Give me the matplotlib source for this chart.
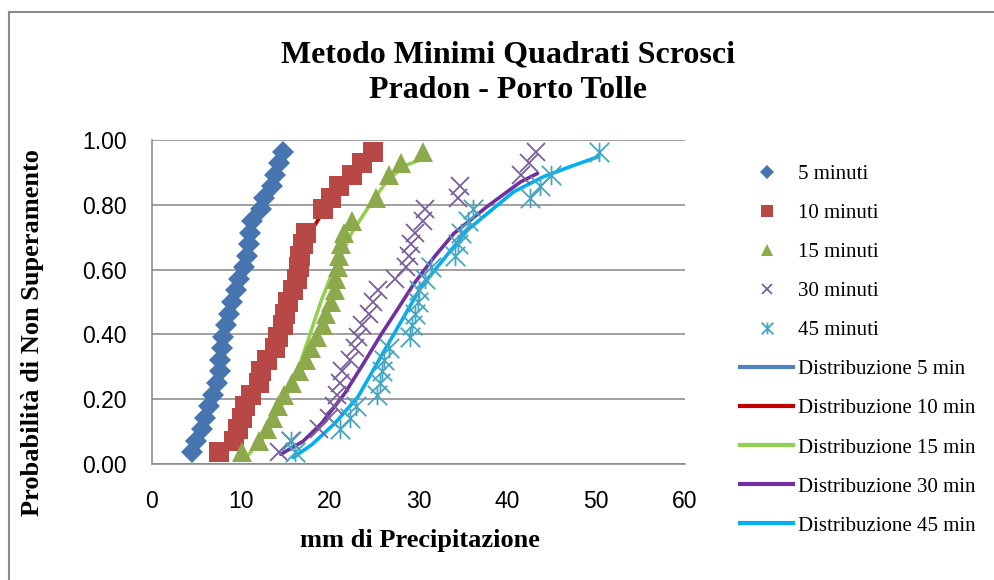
import matplotlib
matplotlib.use("Agg")
import matplotlib.pyplot as plt
from matplotlib.lines import Line2D
from matplotlib.path import Path

plt.rcParams["font.family"] = ["Liberation Serif", "DejaVu Serif"]

# Observed rainfall depths (mm) and plotting-position probabilities per duration
p5 = [0.036, 0.071, 0.107, 0.143, 0.179, 0.214, 0.250, 0.286, 0.321, 0.357, 0.393, 0.429, 0.464,
      0.500, 0.536, 0.571, 0.607, 0.643, 0.679, 0.714, 0.750, 0.786, 0.821, 0.857, 0.893, 0.929, 0.964]
x5 = [4.5, 5.0, 5.6, 6.0, 6.4, 6.9, 7.3, 7.6, 7.7, 7.85, 8.0, 8.3, 8.7,
      9.0, 9.4, 9.8, 10.4, 10.7, 10.9, 11.0, 11.3, 12.3, 12.6, 13.5, 13.9, 14.3, 14.8]

p10 = [0.036, 0.071, 0.107, 0.143, 0.179, 0.214, 0.250, 0.286, 0.321, 0.357, 0.393, 0.429, 0.464,
       0.500, 0.536, 0.571, 0.607, 0.643, 0.679, 0.714, 0.786, 0.821, 0.857, 0.893, 0.929, 0.964]
x10 = [7.5, 9.2, 9.7, 10.1, 10.5, 11.1, 12.0, 12.3, 13.0, 13.9, 14.2, 14.8, 15.0,
       15.3, 15.9, 16.3, 16.6, 16.7, 17.0, 17.3, 19.3, 20.2, 21.1, 22.5, 23.6, 24.9]

p15 = [0.036, 0.071, 0.107, 0.143, 0.179, 0.214, 0.250, 0.286, 0.321, 0.357, 0.393, 0.429, 0.464,
       0.500, 0.536, 0.571, 0.607, 0.643, 0.679, 0.714, 0.750, 0.821, 0.893, 0.929, 0.964]
x15 = [10.1, 12.0, 12.9, 13.6, 14.2, 14.9, 15.8, 16.6, 17.3, 17.9, 18.6, 19.2, 19.6,
       20.2, 20.6, 20.7, 20.9, 21.1, 21.3, 21.6, 22.5, 25.2, 26.7, 28.0, 30.5]

p30 = [0.036, 0.071, 0.107, 0.143, 0.179, 0.214, 0.250, 0.286, 0.321, 0.357, 0.393, 0.429, 0.464,
       0.500, 0.536, 0.571, 0.607, 0.643, 0.679, 0.714, 0.750, 0.786, 0.821, 0.857, 0.893, 0.929, 0.964]
x30 = [14.3, 15.6, 18.8, 19.9, 20.5, 20.8, 21.2, 21.4, 22.3, 22.8, 23.2, 23.6, 24.4,
       24.9, 25.4, 27.4, 28.6, 28.9, 29.1, 29.6, 30.5, 30.7, 34.5, 34.7, 41.5, 42.4, 43.2]

p45 = [0.036, 0.071, 0.107, 0.143, 0.179, 0.214, 0.250, 0.286, 0.321, 0.357, 0.393, 0.429, 0.464,
       0.500, 0.536, 0.571, 0.607, 0.643, 0.679, 0.714, 0.750, 0.786, 0.821, 0.857, 0.893, 0.964]
x45 = [16.1, 15.7, 21.2, 22.3, 23.0, 25.3, 25.7, 25.9, 26.1, 26.7, 29.0, 29.3, 29.6,
       29.9, 30.1, 30.7, 31.4, 34.1, 34.5, 34.8, 35.6, 36.1, 42.5, 43.7, 44.9, 50.3]

# Fitted distributions (least squares), read as (mm, probability)
d5_x = [4.5, 5.6, 6.9, 7.8, 8.7, 9.7, 10.7, 11.8, 13.0, 14.0, 14.8]
d5_p = [0.04, 0.11, 0.22, 0.34, 0.46, 0.58, 0.67, 0.77, 0.86, 0.92, 0.96]

d10_x = [7.5, 9.5, 11.0, 12.4, 13.5, 14.4, 15.3, 16.3, 17.3, 18.5, 20.0, 22.0, 24.9]
d10_p = [0.035, 0.10, 0.20, 0.29, 0.36, 0.43, 0.52, 0.60, 0.69, 0.745, 0.81, 0.88, 0.955]

d15_x = [10.9, 12.5, 14.0, 15.5, 16.8, 17.9, 19.0, 20.0, 20.9, 22.4, 24.3, 26.5, 28.4, 30.3]
d15_p = [0.03, 0.08, 0.15, 0.23, 0.32, 0.41, 0.50, 0.57, 0.62, 0.71, 0.79, 0.876, 0.92, 0.94]

d30_x = [14.5, 17.0, 19.1, 21.7, 23.8, 25.8, 27.7, 29.5, 31.8, 34.0, 37.7, 41.5, 43.4]
d30_p = [0.03, 0.07, 0.126, 0.218, 0.31, 0.40, 0.48, 0.557, 0.64, 0.712, 0.794, 0.871, 0.897]

d45_x = [15.9, 18.0, 20.6, 23.2, 26.2, 30.3, 35.5, 40.7, 44.1, 47.1, 50.3]
d45_p = [0.02, 0.06, 0.126, 0.208, 0.352, 0.547, 0.722, 0.84, 0.887, 0.918, 0.949]

point_labels = ["5 minuti", "10 minuti", "15 minuti", "30 minuti", "45 minuti"]
line_labels = ["Distribuzione 5 min", "Distribuzione 10 min", "Distribuzione 15 min",
               "Distribuzione 30 min", "Distribuzione 45 min"]

# Excel-like asterisk: an X with a vertical bar
star = Path([(-0.5, -0.5), (0.5, 0.5), (-0.5, 0.5), (0.5, -0.5), (0, -0.5), (0, 0.5)],
            [Path.MOVETO, Path.LINETO, Path.MOVETO, Path.LINETO, Path.MOVETO, Path.LINETO])

point_style = [
    dict(marker="D", ms=11.5, color="#4675B0", mew=0),
    dict(marker="s", ms=14, color="#B84845", mew=0),
    dict(marker="^", ms=14, color="#8CAA4C", mew=0),
    dict(marker="x", ms=13, color="#7A5E9E", mew=1.3),
    dict(marker=star, ms=14, color="#46A6C2", mew=1.3, mfc="none"),
]
line_colors = ["#4F81BD", "#C00000", "#92D050", "#7030A0", "#00B0F0"]

fig = plt.figure(figsize=(9.94, 5.8), dpi=100)
ax = fig.add_axes([152 / 994, 0.2, 533 / 994, 324 / 580])

for lx, lp, c in zip([d5_x, d10_x, d15_x, d30_x, d45_x],
                     [d5_p, d10_p, d15_p, d30_p, d45_p], line_colors):
    ax.plot(lx, lp, color=c, lw=2.6, zorder=2, solid_capstyle="round")

for px, pp, st in zip([x5, x10, x15, x30, x45], [p5, p10, p15, p30, p45], point_style):
    st = dict(st)
    col = st.pop("color")
    ax.plot(px, pp, ls="none", color=col, mec=col, zorder=3, **st)

ax.set_xlim(0, 60)
ax.set_ylim(0, 1)
ax.set_xticks(range(0, 61, 10))
ax.set_yticks([0, 0.2, 0.4, 0.6, 0.8, 1.0])
ax.set_yticklabels([f"{v:.2f}" for v in [0, 0.2, 0.4, 0.6, 0.8, 1.0]])
for lab in ax.get_xticklabels() + ax.get_yticklabels():
    lab.set_fontfamily("Liberation Sans")
    lab.set_fontsize(16.5)
ax.tick_params(axis="both", length=0)
ax.tick_params(axis="y", pad=18)
ax.tick_params(axis="x", pad=19)
ax.grid(axis="y", color="#868686", lw=1.1)
ax.set_axisbelow(True)
for side in ["top", "right"]:
    ax.spines[side].set_visible(False)
for side in ["left", "bottom"]:
    ax.spines[side].set_color("#868686")
    ax.spines[side].set_linewidth(1.1)

fig.text(508 / 994, 1 - 72.5 / 580, "Metodo Minimi Quadrati Scrosci\nPradon - Porto Tolle",
         ha="center", va="center", fontsize=23, fontweight="bold", linespacing=1.29)
fig.text(33 / 994, 1 - 333 / 580, "Probabilità di Non Superamento", rotation=90,
         ha="center", va="center", fontsize=19, fontweight="bold")
fig.text(420 / 994, 1 - 540 / 580, "mm di Precipitazione",
         ha="center", va="center", fontsize=19, fontweight="bold")

handles = []
for st in point_style:
    st = dict(st)
    col = st.pop("color")
    st["ms"] = st["ms"] * 0.6
    handles.append(Line2D([], [], ls="none", color=col, mec=col, **st))
for c in line_colors:
    handles.append(Line2D([], [], color=c, lw=3))
fig.legend(handles, point_labels + line_labels, loc="upper left",
           bbox_to_anchor=(740 / 994, 1 - 164.5 / 580), frameon=False, fontsize=15,
           handlelength=2.55, handletextpad=0.25, labelspacing=0.935,
           borderpad=0, borderaxespad=0)

# outer chart border
fig.add_artist(Line2D([9 / 994, 1], [1 - 12 / 580, 1 - 12 / 580], color="#8a8a8a", lw=1.5))
fig.add_artist(Line2D([9 / 994, 9 / 994], [0, 1 - 12 / 580], color="#8a8a8a", lw=1.5))

fig.savefig("out.png", dpi=100)
